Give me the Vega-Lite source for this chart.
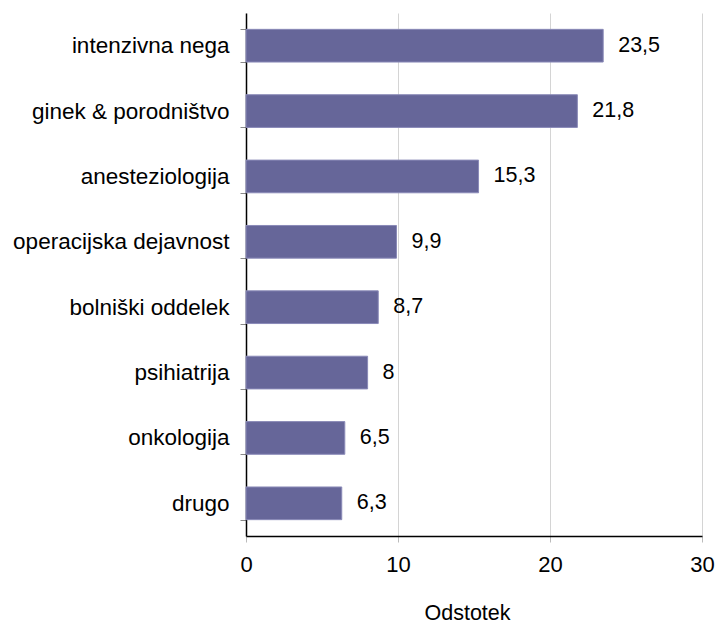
{
  "$schema": "https://vega.github.io/schema/vega-lite/v6.json",
  "width": 456,
  "height": 523,
  "padding": {"left": 12, "top": 2, "right": 6, "bottom": 0},
  "background": "white",
  "config": {
    "locale": {"number": {"decimal": ",", "thousands": ".", "grouping": [3], "currency": ["", " €"]}},
    "font": "Liberation Sans",
    "view": {"stroke": null}
  },
  "data": {
    "values": [
      {"oddelek": "intenzivna nega", "odstotek": 23.5},
      {"oddelek": "ginek & porodništvo", "odstotek": 21.8},
      {"oddelek": "anesteziologija", "odstotek": 15.3},
      {"oddelek": "operacijska dejavnost", "odstotek": 9.9},
      {"oddelek": "bolniški oddelek", "odstotek": 8.7},
      {"oddelek": "psihiatrija", "odstotek": 8},
      {"oddelek": "onkologija", "odstotek": 6.5},
      {"oddelek": "drugo", "odstotek": 6.3}
    ]
  },
  "encoding": {
    "y": {
      "field": "oddelek",
      "type": "nominal",
      "sort": null,
      "scale": {"paddingInner": 0.5, "paddingOuter": 0.25},
      "axis": {
        "title": null,
        "labelFontSize": 22.5,
        "labelColor": "#000000",
        "labelPadding": 11,
        "tickBand": "extent",
        "tickSize": 6,
        "tickColor": "#888888",
        "domainColor": "#000000",
        "domainWidth": 1.5,
        "grid": false,
        "labelLimit": 400
      }
    },
    "x": {
      "field": "odstotek",
      "type": "quantitative",
      "scale": {"domain": [0, 30], "nice": false},
      "axis": {
        "title": "Odstotek",
        "titleFontSize": 21.5,
        "titleFontWeight": "normal",
        "titleColor": "#000000",
        "titlePadding": 27,
        "titleX": 221,
        "values": [0, 10, 20, 30],
        "format": "d",
        "labelFlush": false,
        "labelFontSize": 22,
        "labelColor": "#000000",
        "labelPadding": 12,
        "tickSize": 6,
        "tickColor": "#bbbbbb",
        "domainColor": "#000000",
        "domainWidth": 1.5,
        "grid": true,
        "gridColor": "#d4d4d4"
      }
    }
  },
  "layer": [
    {
      "mark": {"type": "bar", "color": "#666699", "stroke": "#8a8ab8", "strokeWidth": 1}
    },
    {
      "mark": {"type": "text", "align": "left", "baseline": "middle", "dx": 15, "fontSize": 21.5, "color": "#000000"},
      "encoding": {
        "text": {"field": "odstotek", "type": "quantitative", "format": "~g"}
      }
    }
  ]
}
